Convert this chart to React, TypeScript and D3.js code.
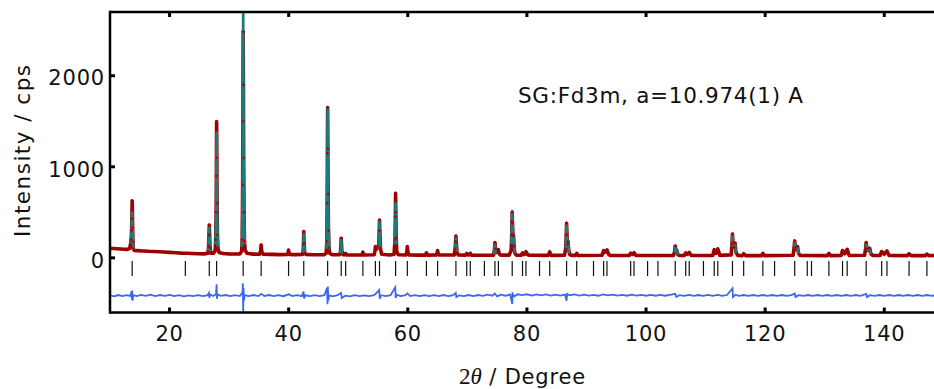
import React from 'react';
import * as d3 from 'd3';

const obsTheta = [10.0,10.6,11.2,11.8,12.4,12.9,13.3,13.45,13.55,13.62,13.67,13.72,13.76,13.80,13.85,13.92,14.05,14.6,15.5,16.5,17.5,18.3,19.0,20.0,21.0,22.0,22.9,23.8,24.8,25.8,26.45,26.55,26.62,26.67,26.72,26.80,26.95,27.4,27.65,27.75,27.82,27.86,27.90,27.94,27.98,28.04,28.12,28.3,29.0,30.0,31.0,31.8,32.1,32.2,32.27,32.31,32.36,32.40,32.44,32.50,32.58,32.70,33.0,34.0,35.1,35.28,35.38,35.48,35.7,37.0,38.5,39.85,39.98,40.12,41.0,42.3,42.42,42.48,42.53,42.58,42.68,42.9,44.0,45.0,46.0,46.3,46.40,46.46,46.50,46.54,46.58,46.62,46.68,46.76,46.90,47.3,48.5,48.7,48.82,48.92,49.1,49.45,49.57,49.7,50.5,52.3,52.46,52.6,54.35,54.5,54.56,54.7,55.1,55.2,55.25,55.3,55.42,55.6,57.0,57.7,57.85,57.91,57.95,57.99,58.05,58.15,58.4,59.7,59.85,59.92,60.0,60.2,62.0,62.95,63.13,63.3,64.85,65.0,65.15,67.8,67.95,68.02,68.08,68.14,68.25,68.45,69.7,69.89,70.1,70.3,70.49,70.7,73.0,74.4,74.55,74.63,74.72,74.95,75.21,75.35,75.6,77.0,77.35,77.45,77.50,77.53,77.58,77.65,77.75,77.85,77.95,78.2,79.05,79.26,79.5,79.84,80.1,80.5,83.6,83.83,84.1,86.3,86.5,86.6,86.66,86.72,86.82,86.90,87.0,87.2,87.6,88.15,88.36,88.6,92.6,92.88,93.1,93.44,93.7,94.0,97.2,97.42,97.7,97.98,98.3,104.6,104.8,104.9,105.0,105.15,105.35,105.6,106.4,106.66,106.95,107.25,107.6,111.2,111.45,111.75,112.05,112.4,114.3,114.43,114.51,114.60,114.8,114.95,115.1,115.4,116.15,116.39,116.7,119.4,119.61,119.9,124.7,124.85,124.96,125.1,125.3,125.45,125.6,125.9,130.45,130.70,131.0,132.75,132.99,133.35,133.77,134.1,136.7,136.85,136.96,137.1,137.35,137.55,137.75,138.1,139.3,139.56,140.0,140.45,140.8,143.9,144.16,144.5,146.9,147.16,147.5,150.0];
const obsInt = [104,102,100,97,94,93,105,150,200,300,430,628,520,330,180,100,82,80,76,72,70,67,64,60,56,52,51,48,46,44,50,130,250,361,250,110,52,52,75,200,500,900,1496,1100,600,250,110,60,48,44,42,44,70,200,800,1500,2484,1900,1100,500,180,80,50,41,40,70,142,70,40,38,36,38,85,38,36,37,70,150,290,160,60,38,35,35,36,50,180,600,1150,1650,1200,700,300,110,50,36,34,60,215,80,36,34,48,33,32,32,62,32,34,80,123,95,120,300,416,300,100,40,32,40,200,450,709,500,220,70,34,32,70,123,70,32,30,30,55,30,32,80,32,31,100,180,240,170,70,31,30,48,32,32,50,30,28,30,90,167,100,60,90,45,30,30,80,250,400,500,380,260,240,130,55,30,29,55,35,68,35,28,27,65,27,28,100,250,380,260,150,180,90,35,27,27,50,26,28,80,60,87,40,26,26,52,38,57,26,27,70,130,90,85,35,26,26,55,38,60,26,26,90,50,98,27,33,150,262,170,120,160,60,27,25,45,25,25,48,25,28,110,186,110,90,123,50,26,25,48,25,26,80,45,94,26,28,100,167,100,80,105,45,26,26,70,40,76,26,25,45,25,25,40,25,26];

// calculated profile around the reflections (null breaks the line)
const calcTheta = [13.45,13.6,13.67,13.72,13.77,13.85,13.95,null,26.5,26.62,26.67,26.72,26.85,null,27.72,27.82,27.90,27.97,28.1,null,32.15,32.27,32.36,32.44,32.6,null,42.42,42.53,42.65,null,46.35,46.46,46.54,46.62,46.8,null,48.72,48.82,48.92,null,55.1,55.25,55.4,null,57.82,57.95,58.08,null,67.95,68.08,68.22,null,74.5,74.63,74.75,null,77.4,77.53,77.66,77.8,77.95,null,86.5,86.66,86.8,86.9,87.05,null,104.8,104.9,105.05,105.15,105.3,null,114.4,114.51,114.65,114.95,115.1,null,124.85,124.96,125.1,125.45,125.6,null,136.85,136.96,137.1,137.55,137.7];
const calcInt = [150,280,420,500,380,170,90,null,80,240,330,230,70,null,150,500,1375,600,120,null,120,800,2900,1100,150,null,60,260,60,null,100,600,1650,700,90,null,50,200,50,null,100,400,90,null,150,600,150,null,90,230,70,null,40,160,50,null,150,515,230,220,50,null,90,360,160,170,50,null,60,125,70,80,35,null,120,250,140,150,50,null,100,180,100,115,45,null,90,160,90,100,40];

// difference curve (offset below the pattern)
const diffTheta = [10,10.7,11.4,12.1,12.8,13.4,13.6,13.68,13.72,13.78,13.9,14.5,15.2,16,16.8,17.6,18.4,19.2,20,20.8,21.6,22.4,23.2,24,24.8,25.6,26.4,26.6,26.7,26.8,27.3,27.8,27.86,27.9,27.95,28.05,28.6,29.4,30.2,31,31.8,32.25,32.3,32.36,32.42,32.5,32.6,33.3,34.1,34.9,35.4,35.9,36.7,37.5,38.3,39.1,40,40.6,41.4,42.2,42.5,42.58,42.8,43.6,44.4,45.2,46,46.45,46.52,46.58,46.66,46.8,47.4,48.2,48.8,48.9,49.5,50.3,51.1,51.9,52.7,53.5,54.3,54.6,55.2,55.3,55.5,56.3,57.1,57.9,57.97,58.1,58.8,59.6,59.95,60.4,61.2,62,62.8,63.6,64.4,65.2,66,66.8,67.6,68.05,68.15,68.6,69.4,70.2,71,71.8,72.6,73.4,74.2,74.6,75,75.6,76.4,77.2,77.53,77.6,77.9,78.4,79.2,80,80.8,81.6,82.4,83.2,84,84.8,85.6,86.4,86.66,86.75,87.2,88,88.8,89.6,90.4,91.2,92,92.8,93.6,94.4,95.2,96,96.8,97.6,98.4,99.2,100,100.8,101.6,102.4,103.2,104,104.9,105.1,105.6,106.4,107.2,108,108.8,109.6,110.4,111.2,112,112.8,113.6,114.51,114.6,115,115.6,116.4,117.2,118,118.8,119.6,120.4,121.2,122,122.8,123.6,124.4,124.96,125.1,125.6,126.4,127.2,128,128.8,129.6,130.4,131.2,132,132.8,133.6,134.4,135.2,136,136.96,137.1,137.6,138.4,139.2,140,140.8,141.6,142.4,143.2,144,144.8,145.6,146.4,147.2,148,148.8,150];
const diffInt = [-412,-422,-408,-420,-410,-418,-372,-455,-360,-470,-410,-420,-406,-418,-404,-420,-408,-418,-406,-420,-410,-422,-412,-420,-410,-421,-410,-385,-440,-400,-418,-400,-340,-290,-450,-400,-418,-408,-420,-410,-420,-380,-280,-590,-330,-470,-410,-420,-408,-420,-395,-418,-408,-420,-410,-421,-400,-420,-410,-420,-370,-445,-412,-421,-410,-420,-410,-330,-510,-316,-470,-412,-422,-410,-385,-440,-415,-422,-410,-420,-412,-421,-410,-395,-352,-450,-410,-420,-410,-323,-440,-405,-420,-410,-390,-420,-410,-421,-410,-420,-410,-421,-408,-420,-410,-385,-430,-412,-420,-408,-420,-408,-418,-404,-416,-392,-422,-404,-416,-402,-506,-395,-425,-400,-410,-400,-414,-402,-412,-402,-414,-404,-414,-404,-470,-395,-410,-402,-414,-404,-414,-406,-416,-402,-412,-404,-414,-406,-416,-404,-414,-406,-416,-406,-416,-406,-416,-406,-395,-430,-410,-418,-406,-418,-408,-418,-406,-418,-406,-418,-408,-334,-430,-405,-418,-408,-418,-408,-418,-408,-418,-408,-418,-408,-418,-408,-392,-430,-410,-418,-408,-418,-408,-418,-408,-418,-408,-418,-408,-418,-408,-418,-395,-430,-410,-418,-408,-418,-408,-418,-408,-418,-408,-418,-408,-418,-408,-418,-408,-416];

// Bragg reflection positions, Fd3m, a = 10.974 A
const braggTheta = [13.72,22.65,26.67,27.90,32.36,35.38,39.98,42.53,46.54,48.82,49.57,52.46,54.56,55.25,57.95,59.92,63.13,65.00,68.08,69.89,70.49,72.86,74.63,75.21,77.53,79.26,79.84,82.12,83.83,86.66,88.36,91.18,92.88,93.44,97.42,97.98,100.26,102.00,104.90,106.66,107.25,109.64,111.45,112.05,114.51,116.39,119.61,121.58,124.96,127.07,127.78,130.70,132.99,133.77,136.96,139.56,140.45,144.16,147.16];

const xTicks = [20, 40, 60, 80, 100, 120, 140];
const yTicks = [0, 1000, 2000];

export default function App() {
  const W = 934, H = 389;
  const left = 110, top = 12, bottom = 312.5;
  const x = d3.scaleLinear().domain([10, 150]).range([left, left + 140 * 5.956]);
  const y = d3.scaleLinear().domain([-600, 2700]).range([bottom, top]);
  const right = x(150);

  const obsPath = d3.line<number>().x((_, i) => x(obsTheta[i])).y(d => y(d))(obsInt) || '';
  const calcPath = d3.line<number | null>()
    .defined((d, i) => d != null && calcTheta[i] != null)
    .x((_, i) => x(calcTheta[i] as number)).y(d => y(d as number))(calcInt) || '';
  const diffPath = d3.line<number>().x((_, i) => x(diffTheta[i])).y(d => y(d))(diffInt) || '';

  const font = "'DejaVu Sans', sans-serif";
  const tickFs = 21;

  return (
    <svg width={W} height={H} style={{ position: 'absolute', left: 0, top: 0, background: '#fff' }}>
      <defs>
        <clipPath id="plot">
          <rect x={left} y={top} width={right - left} height={bottom - top} />
        </clipPath>
      </defs>
      <g clipPath="url(#plot)">
        <path d={diffPath} fill="none" stroke="#3a68f0" strokeWidth={1.8} />
        {braggTheta.map((t, i) => (
          <line key={i} x1={x(t)} x2={x(t)} y1={y(-35)} y2={y(-198)} stroke="#111" strokeWidth={1.2} />
        ))}
        <path d={obsPath} fill="none" stroke="#9e0000" strokeWidth={3.6} strokeLinejoin="round" />
        <path d={calcPath} fill="none" stroke="#1b7d7b" strokeWidth={2.6} strokeLinejoin="round" />
        {obsInt.map((v, i) => {
          if (v < 100) return null;
          const cx = x(obsTheta[i]), cy = y(v);
          return (
            <path key={i} d={`M${cx - 1.5},${cy}H${cx + 1.5}M${cx},${cy - 1.5}V${cy + 1.5}`} stroke="#b00000" strokeWidth={1.1} />
          );
        })}
      </g>
      {/* frame */}
      <line x1={left} x2={left} y1={top - 1.2} y2={bottom + 1.2} stroke="#000" strokeWidth={2.5} />
      <line x1={left} x2={W} y1={top} y2={top} stroke="#000" strokeWidth={2.5} />
      <line x1={left} x2={W} y1={bottom} y2={bottom} stroke="#000" strokeWidth={2.5} />
      {xTicks.map(t => (
        <g key={t}>
          <line x1={x(t)} x2={x(t)} y1={bottom} y2={bottom - 5} stroke="#000" strokeWidth={3} />
          <line x1={x(t)} x2={x(t)} y1={top} y2={top + 5} stroke="#000" strokeWidth={3} />
          <text x={x(t)} y={341} textAnchor="middle" fontFamily={font} fontSize={tickFs} letterSpacing={0.8} fill="#111">{t}</text>
        </g>
      ))}
      {yTicks.map(t => (
        <g key={t}>
          <line x1={left} x2={left + 5} y1={y(t)} y2={y(t)} stroke="#000" strokeWidth={3} />
          <text x={105} y={y(t) + 9.7} textAnchor="end" fontFamily={font} fontSize={tickFs} letterSpacing={0.8} fill="#111">{t}</text>
        </g>
      ))}
      <text transform="translate(29.5,151) rotate(-90)" textAnchor="middle" fontFamily={font} fontSize={21.5}
        textLength={172} lengthAdjust="spacing" fill="#111">Intensity / cps</text>
      <text x={518} y={103} fontFamily={font} fontSize={21.5} textLength={285} lengthAdjust="spacing" fill="#111">SG:Fd3m, a=10.974(1) A</text>
      <text x={459} y={383.5} fill="#111">
        <tspan fontFamily="'Liberation Serif', serif" fontSize={23}>2</tspan>
        <tspan fontFamily="'Liberation Serif', serif" fontStyle="italic" fontSize={23}>θ</tspan>
        <tspan fontFamily={font} fontSize={21} letterSpacing={0.8}> / Degree</tspan>
      </text>
    </svg>
  );
}
